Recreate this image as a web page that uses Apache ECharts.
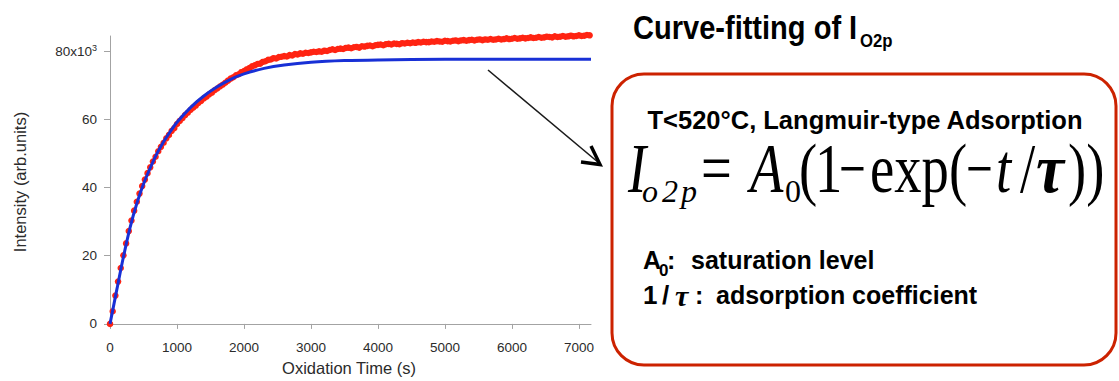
<!DOCTYPE html>
<html><head><meta charset="utf-8">
<script src="https://cdn.jsdelivr.net/npm/echarts@6/dist/echarts.min.js"></script>
<style>html,body{margin:0;padding:0;background:#fff}#c{width:1119px;height:381px}</style>
</head><body><div id="c"></div>
<script>
// ---- data ----
const sampleStep = 40; // seconds between measured points
const measuredIntensity = [
  0, 3.7, 8.3, 12.4, 16.4, 20.1, 23.6, 27.2, 30.3, 33.2,
  35.8, 38.2, 40.4, 42.3, 44.2, 45.9, 47.6, 49.0, 50.6, 51.9,
  53.1, 54.4, 55.4, 56.6, 57.4, 58.6, 59.5, 60.3, 61.2, 61.9,
  62.7, 63.4, 64.0, 64.8, 65.4, 66.1, 66.6, 67.3, 67.8, 68.5,
  69.0, 69.6, 70.1, 70.7, 71.3, 71.9, 72.3, 72.9, 73.2, 73.8,
  74.1, 74.6, 75.0, 75.5, 75.8, 76.2, 76.3, 76.8, 77.0, 77.4,
  77.5, 77.9, 77.8, 78.2, 78.3, 78.5, 78.4, 78.8, 78.7, 79.1,
  79.0, 79.3, 79.2, 79.5, 79.4, 79.6, 79.8, 79.7, 79.9, 79.8,
  80.1, 80.0, 80.3, 80.5, 80.3, 80.6, 80.7, 80.6, 80.9, 81.0,
  80.8, 81.1, 81.2, 81.0, 81.4, 81.3, 81.5, 81.6, 81.4, 81.7,
  81.8, 81.9, 81.7, 82.0, 82.1, 81.9, 82.2, 82.1, 82.0, 82.3,
  82.2, 82.4, 82.3, 82.5, 82.4, 82.6, 82.5, 82.7, 82.6, 82.6,
  82.8, 82.7, 82.9, 82.8, 82.7, 83.0, 82.9, 82.8, 83.0, 83.1,
  82.9, 83.1, 83.2, 83.0, 83.2, 83.3, 83.1, 83.3, 83.4, 83.2,
  83.4, 83.3, 83.5, 83.3, 83.4, 83.6, 83.4, 83.5, 83.7, 83.5,
  83.6, 83.8, 83.6, 83.7, 83.9, 83.7, 83.8, 84.0, 83.8, 83.9,
  84.1, 83.9, 84.0, 84.2, 84.1, 84.0, 84.3, 84.1, 84.2, 84.4,
  84.2, 84.3, 84.5, 84.3, 84.4, 84.6, 84.4, 84.5, 84.7, 84.6
];
const fitTimes = [0, 100, 200, 300, 400, 500, 600, 700, 800, 900, 1000, 1200, 1400, 1600, 1800, 2000, 2300, 2600, 3000, 3500, 4000, 5000, 6000, 7180];
const fitIntensity = [0, 9.9, 19.6, 28.3, 35.3, 41.0, 45.7, 49.9, 53.4, 56.4, 59.1, 63.4, 66.8, 69.5, 71.7, 73.3, 74.9, 75.9, 76.7, 77.2, 77.4, 77.55, 77.6, 77.6];
const xTickValues = [0, 1000, 2000, 3000, 4000, 5000, 6000, 7000];
const yTickValues = [0, 20, 40, 60, 80];
const xAxisTitle = 'Oxidation Time (s)';
const yAxisTitle = 'Intensity (arb.units)';

// ---- chart ----
const measuredPoints = measuredIntensity.map((v, i) => [i * sampleStep, v]);
const fitPoints = fitTimes.map((t, i) => [t, fitIntensity[i]]);

const axisGray = '#a3a3a3';
const labelColor = '#2b2b2b';
const sansB = "'Liberation Sans', Arial, sans-serif";
const serif = "'Liberation Serif', 'Times New Roman', serif";

function txt(x, y, text, size, opts) {
  opts = opts || {};
  return {
    type: 'text', x: x, y: y, scaleX: opts.sx || 1, z: 100,
    style: {
      text: text, fontSize: size, fontFamily: opts.ff || sansB,
      fontWeight: opts.fw || 'bold', fontStyle: opts.fs || 'normal',
      fill: opts.fill || '#000', align: opts.align || 'left', verticalAlign: 'middle'
    }
  };
}
const F = 70, FS = 32, SQ = 0.78;
const fy = 192 - 0.34 * F, sy = 202 - 0.34 * FS;
const serifN = { ff: serif, fw: 'normal', sx: SQ };
const serifI = { ff: serif, fw: 'normal', fs: 'italic', sx: SQ };
const minusS = { ff: serif, fw: 'normal', sx: 0.68 };
const graphics = [
  { type: 'rect', z: 90, shape: { x: 612, y: 74, width: 504, height: 291, r: 32 },
    style: { fill: 'none', stroke: '#cc2200', lineWidth: 3 } },
  { type: 'polyline', z: 90, shape: { points: [[488, 70], [599, 163]] },
    style: { stroke: '#1a1a1a', lineWidth: 1.6, fill: 'none' } },
  { type: 'polyline', z: 90, shape: { points: [[591, 146], [600, 164.5], [581, 162]] },
    style: { stroke: '#000', lineWidth: 3.5, fill: 'none', lineJoin: 'miter' } },
  txt(633, 28, 'Curve-fitting of I', 33, { sx: 0.88 }),
  txt(860, 40.5, 'O2p', 19, { sx: 0.88 }),
  txt(865, 120, 'T<520°C, Langmuir-type Adsorption', 25.5, { align: 'center' }),
  // formula
  txt(628, fy, 'I', F, serifI),
  txt(642, sy, 'o', FS, { ff: serif, fw: 'normal', fs: 'italic' }),
  txt(662, sy, '2', FS, { ff: serif, fw: 'normal', fs: 'italic' }),
  txt(681, sy, 'p', FS, { ff: serif, fw: 'normal', fs: 'italic' }),
  txt(701, fy, '=', F, serifN),
  txt(750, fy, 'A', F, serifI),
  txt(785, sy, '0', FS, { ff: serif, fw: 'normal' }),
  txt(799, fy, '(', F, serifN),
  txt(815, fy, '1', F, serifN),
  txt(839, fy, '−', F, minusS),
  txt(870, fy, 'exp', F, serifN),
  txt(949, fy, '(', F, serifN),
  txt(966, fy, '−', F, minusS),
  txt(996, fy, 't', F, serifI),
  txt(1020, fy, '/', F, serifN),
  txt(1036, fy, 'τ', F, { ff: serif, fw: 'bold', fs: 'italic', sx: 0.9 }),
  txt(1068, fy, '))', F, serifN),
  // notes
  txt(643, 259.5, 'A', 25),
  txt(659, 270, '0', 17),
  txt(667, 259.5, ':', 25),
  txt(691, 259.5, 'saturation level', 25),
  txt(643, 295, '1', 26),
  txt(662, 295, '/', 26),
  txt(675, 295, 'τ', 30, { ff: serif, fs: 'italic' }),
  txt(695, 295, ':', 25),
  txt(716, 295, 'adsorption coefficient', 25)
];

const chart = echarts.init(document.getElementById('c'), null, { renderer: 'svg' });
chart.setOption({
  animation: false,
  backgroundColor: '#fff',
  grid: { left: 107, right: 528, top: 36, bottom: 48, containLabel: false },
  xAxis: {
    type: 'value', min: -45, max: 7180,
    name: xAxisTitle, nameLocation: 'middle', nameGap: 31,
    nameTextStyle: { fontSize: 16.5, color: labelColor, fontFamily: 'Liberation Sans, Arial' },
    axisLine: { show: true, lineStyle: { color: axisGray, width: 1 } },
    axisTick: { show: true, length: 5, customValues: xTickValues, lineStyle: { color: axisGray } },
    axisLabel: { customValues: xTickValues, margin: 12, fontSize: 13.5, color: labelColor,
      fontFamily: 'Liberation Sans, Arial', formatter: v => String(v) },
    splitLine: { show: false }
  },
  yAxis: {
    type: 'value', min: -1.2, max: 84.4,
    name: yAxisTitle, nameLocation: 'middle', nameGap: 79, nameRotate: 90,
    nameTextStyle: { fontSize: 16.5, color: labelColor, fontFamily: 'Liberation Sans, Arial' },
    axisLine: { show: true, lineStyle: { color: axisGray, width: 1 } },
    axisTick: { show: true, length: 6, customValues: yTickValues, lineStyle: { color: axisGray } },
    axisLabel: {
      customValues: yTickValues, margin: 10, fontSize: 13.5, color: labelColor, fontFamily: 'Liberation Sans, Arial',
      formatter: v => v === 80 ? '{n|80x10}{sup|3}' : String(v),
      rich: {
        n: { fontSize: 13.5, lineHeight: 16, color: labelColor, fontFamily: 'Liberation Sans, Arial' },
        sup: { fontSize: 9, lineHeight: 9, verticalAlign: 'top', color: labelColor, fontFamily: 'Liberation Sans, Arial' }
      }
    },
    splitLine: { show: false }
  },
  series: [
    { type: 'scatter', data: measuredPoints, symbol: 'circle', symbolSize: 6.5, clip: false,
      itemStyle: { color: '#ff2412', opacity: 1 }, z: 2 },
    { type: 'line', data: fitPoints, showSymbol: false, smooth: 0.35, clip: false,
      lineStyle: { color: '#1830d6', width: 3 }, z: 3 }
  ],
  graphic: graphics
});
</script>
</body></html>
